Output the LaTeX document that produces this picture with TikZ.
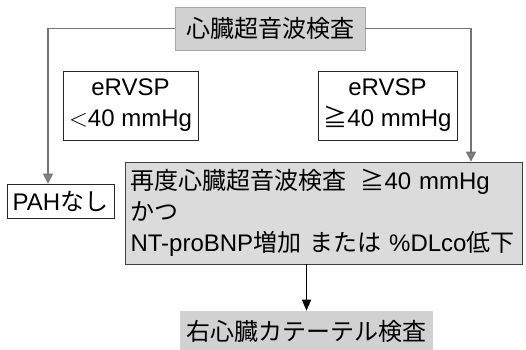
\documentclass[tikz,border=0pt]{standalone}
\usepackage{fontspec}
\setmainfont{Liberation Sans}
\newfontfamily\jp{Noto Sans CJK JP}
\usetikzlibrary{arrows.meta}
\begin{document}
\begin{tikzpicture}[x=1pt,y=-1pt,
  txt/.style={font=\fontsize{24}{31}\selectfont, inner sep=0pt},
  plainbox/.style={txt, draw=black!85, line width=0.8pt, align=center},
  graybox/.style={txt, fill=black!18, draw=black!35, line width=0.6pt},
  bigbox/.style={txt, fill=black!14, draw=black!75, line width=0.8pt},
  conn/.style={draw=black!55, line width=1.2pt, -{Triangle[width=10pt,length=10pt,fill=black!50]}},
  mainarrow/.style={draw=black, line width=1.4pt, -{Triangle[width=9pt,length=11pt]}}
]
\useasboundingbox (0,0) rectangle (526,349);
\node[graybox, minimum width=190pt, minimum height=43pt] (top) at (270,28.5) {\jp 心臓超音波検査};
\node[plainbox, minimum width=135pt, minimum height=69pt] (lbox) at (130.5,105.5) {eRVSP\\$<$40 mmHg};
\node[plainbox, minimum width=139pt, minimum height=69pt] (rbox) at (387.5,105.5) {eRVSP\\{\jp ≧}40 mmHg};
\node[plainbox, minimum width=107pt, minimum height=34pt] (pah) at (60.5,201) {PAH{\jp なし}};
\node[bigbox, minimum width=397pt, minimum height=102pt, text width=386pt, align=left] (big) at (323.5,213)
  {{\jp 再度心臓超音波検査}\hspace{14pt}{\jp ≧}40 mmHg\\{\jp かつ}\\NT-proBNP{\jp 増加} {\jp または} \%DLco{\jp 低下}};
\node[graybox, draw=none, minimum width=253pt, minimum height=40pt] (bot) at (306.5,331) {\jp 右心臓カテーテル検査};
\coordinate (lc) at (48,28.5);
\coordinate (rc) at (471,28.5);
\draw[conn] (top.west) -- (lc) -- (lc |- pah.north);
\draw[conn] (top.east) -- (rc) -- (rc |- big.north);
\draw[mainarrow] (bot.north |- big.south) -- (bot.north);
\end{tikzpicture}
\end{document}
